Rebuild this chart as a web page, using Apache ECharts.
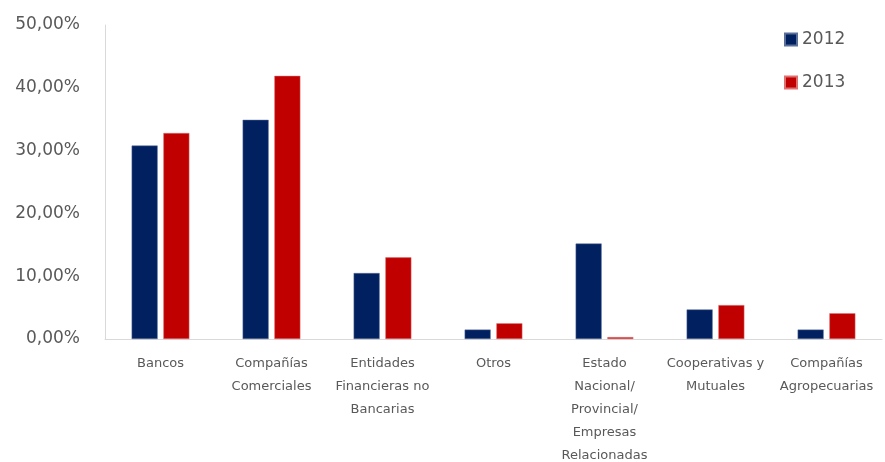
<!DOCTYPE html>
<html>
<head>
<meta charset="utf-8">
<script src="https://cdn.jsdelivr.net/npm/echarts@6/dist/echarts.min.js"></script>
<style>
  html, body { margin: 0; padding: 0; background: #ffffff; }
  #chart { width: 885px; height: 462px; }
</style>
</head>
<body>
<div id="chart"></div>
<script>
// Categorías (con saltos de línea tal como se muestran en el eje)
const categories = [
  'Bancos',
  'Compañías\nComerciales',
  'Entidades\nFinancieras no\nBancarias',
  'Otros',
  'Estado\nNacional/\nProvincial/\nEmpresas\nRelacionadas',
  'Cooperativas y\nMutuales',
  'Compañías\nAgropecuarias'
];

// Participación por tipo de emisor (%)
const values2012 = [30.8, 34.9, 10.5, 1.5, 15.2, 4.7, 1.5];
const values2013 = [32.8, 41.9, 13.0, 2.5, 0.3, 5.4, 4.1];

const seriesNames = ['2012', '2013'];

const axisTextColor = '#595959';
const fontFamily = '"DejaVu Sans", "Open Sans", sans-serif';

const chart = echarts.init(document.getElementById('chart'), null, { renderer: 'canvas' });

chart.setOption({
  animation: false,
  backgroundColor: '#ffffff',
  textStyle: { fontFamily: fontFamily },
  grid: {
    left: 105, right: 3, top: 25, bottom: 123,
    containLabel: false,
    outerBoundsMode: 'none'
  },
  legend: {
    orient: 'vertical',
    left: 779,
    top: 26,
    itemWidth: 12,
    itemHeight: 12,
    itemGap: 26,
    icon: 'rect',
    textStyle: { color: axisTextColor, fontSize: 17, fontFamily: fontFamily },
    data: seriesNames
  },
  xAxis: {
    type: 'category',
    data: categories,
    axisLine: { show: true, lineStyle: { color: '#d9d9d9', width: 1 } },
    axisTick: { show: false },
    axisLabel: {
      interval: 0,
      color: axisTextColor,
      fontSize: 13,
      lineHeight: 23,
      margin: 13,
      fontFamily: fontFamily
    }
  },
  yAxis: {
    type: 'value',
    min: 0,
    max: 50,
    interval: 10,
    splitLine: { show: false },
    axisLine: { show: true, lineStyle: { color: '#d9d9d9', width: 1 } },
    axisTick: { show: false },
    axisLabel: {
      color: axisTextColor,
      fontSize: 17,
      margin: 25,
      fontFamily: fontFamily,
      formatter: v => v.toFixed(2).replace('.', ',') + '%'
    }
  },
  series: [
    {
      name: seriesNames[0],
      type: 'bar',
      data: values2012,
      barWidth: 26,
      barGap: '22%',
      itemStyle: { color: '#002060', borderColor: '#5a6f9a', borderWidth: 0.5 }
    },
    {
      name: seriesNames[1],
      type: 'bar',
      data: values2013,
      barWidth: 26,
      barGap: '22%',
      itemStyle: { color: '#c00000', borderColor: '#e07070', borderWidth: 0.5 }
    }
  ]
});
</script>
</body>
</html>
